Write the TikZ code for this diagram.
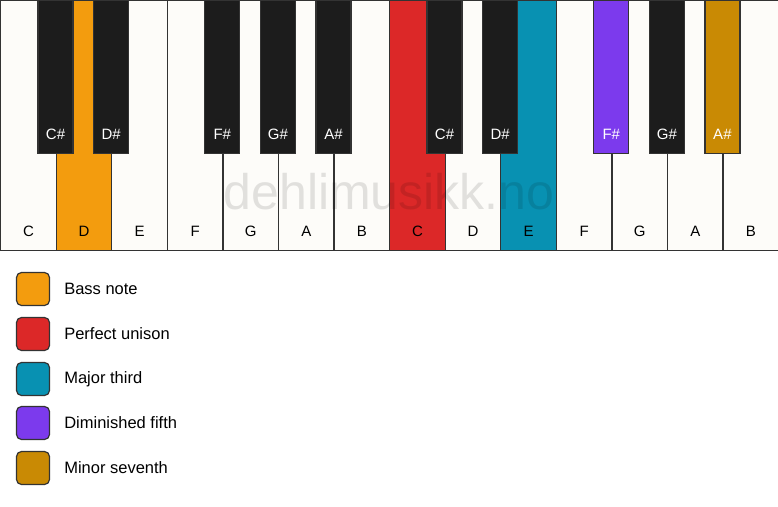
\documentclass[tikz,border=0pt]{standalone}
\usepackage{fontspec}
\setmainfont{Liberation Sans}
\usetikzlibrary{positioning}
\definecolor{keywhite}{HTML}{FDFCF9}
\definecolor{keyblack}{HTML}{1C1C1C}
\definecolor{keyline}{HTML}{333333}
\definecolor{bassnote}{HTML}{F39C0E}
\definecolor{unison}{HTML}{DC2828}
\definecolor{majthird}{HTML}{0891B2}
\definecolor{dimfifth}{HTML}{7C3AED}
\definecolor{minseventh}{HTML}{C98A04}
\tikzset{
  whitekey/.style={draw=keyline, line width=1.3pt, fill=keywhite, anchor=north west,
    minimum width=55.57pt, minimum height=250pt, inner sep=0pt},
  blackkey/.style={draw=keyline, line width=1.3pt, fill=keyblack, anchor=north,
    minimum width=35pt, minimum height=153pt, inner sep=0pt},
  keylabel/.style={font=\fontsize{15}{18}\selectfont, text=black},
  sharplabel/.style={font=\fontsize{15}{18}\selectfont, text=white},
  swatch/.style={draw=keyline, line width=1.2pt, rounded corners=5pt,
    minimum size=33pt, inner sep=0pt},
  legendtext/.style={font=\fontsize{16.5}{19}\selectfont, anchor=west, inner sep=0pt}
}
\begin{document}
\begin{tikzpicture}[x=1pt,y=-1pt]
  \useasboundingbox (0,0) rectangle (778,506);
  % white keys
  \foreach \n/\c/\f in {0/C/keywhite,1/D/bassnote,2/E/keywhite,3/F/keywhite,4/G/keywhite,
      5/A/keywhite,6/B/keywhite,7/C/unison,8/D/keywhite,9/E/majthird,10/F/keywhite,
      11/G/keywhite,12/A/keywhite,13/B/keywhite}{
    \node[whitekey, fill=\f] (w\n) at (\n*55.57,0) {};
    \node[keylabel] (wl\n) at ([yshift=20pt]w\n.south) {\c};
  }
  % watermark
  \node[font=\fontsize{50}{60}\selectfont, text=black, text opacity=0.11] (mark) at (389,192) {dehlimusikk.no};
  % black keys
  \foreach \n/\c/\f in {1/C\#/keyblack,2/D\#/keyblack,4/F\#/keyblack,5/G\#/keyblack,
      6/A\#/keyblack,8/C\#/keyblack,9/D\#/keyblack,11/F\#/dimfifth,12/G\#/keyblack,
      13/A\#/minseventh}{
    \node[blackkey, fill=\f] (b\n) at (\n*55.57,0) {};
    \node[sharplabel] (bl\n) at ([yshift=20pt]b\n.south) {\c};
  }
  % legend
  \node[swatch, fill=bassnote] (s1) at (33,289) {};
  \node[swatch, fill=unison] (s2) at (33,334) {};
  \node[swatch, fill=majthird] (s3) at (33,379) {};
  \node[swatch, fill=dimfifth] (s4) at (33,423) {};
  \node[swatch, fill=minseventh] (s5) at (33,468) {};
  \node[legendtext, right=14pt of s1] (t1) {Bass note};
  \node[legendtext, right=14pt of s2] (t2) {Perfect unison};
  \node[legendtext, right=14pt of s3] (t3) {Major third};
  \node[legendtext, right=14pt of s4] (t4) {Diminished fifth};
  \node[legendtext, right=14pt of s5] (t5) {Minor seventh};
\end{tikzpicture}
\end{document}
